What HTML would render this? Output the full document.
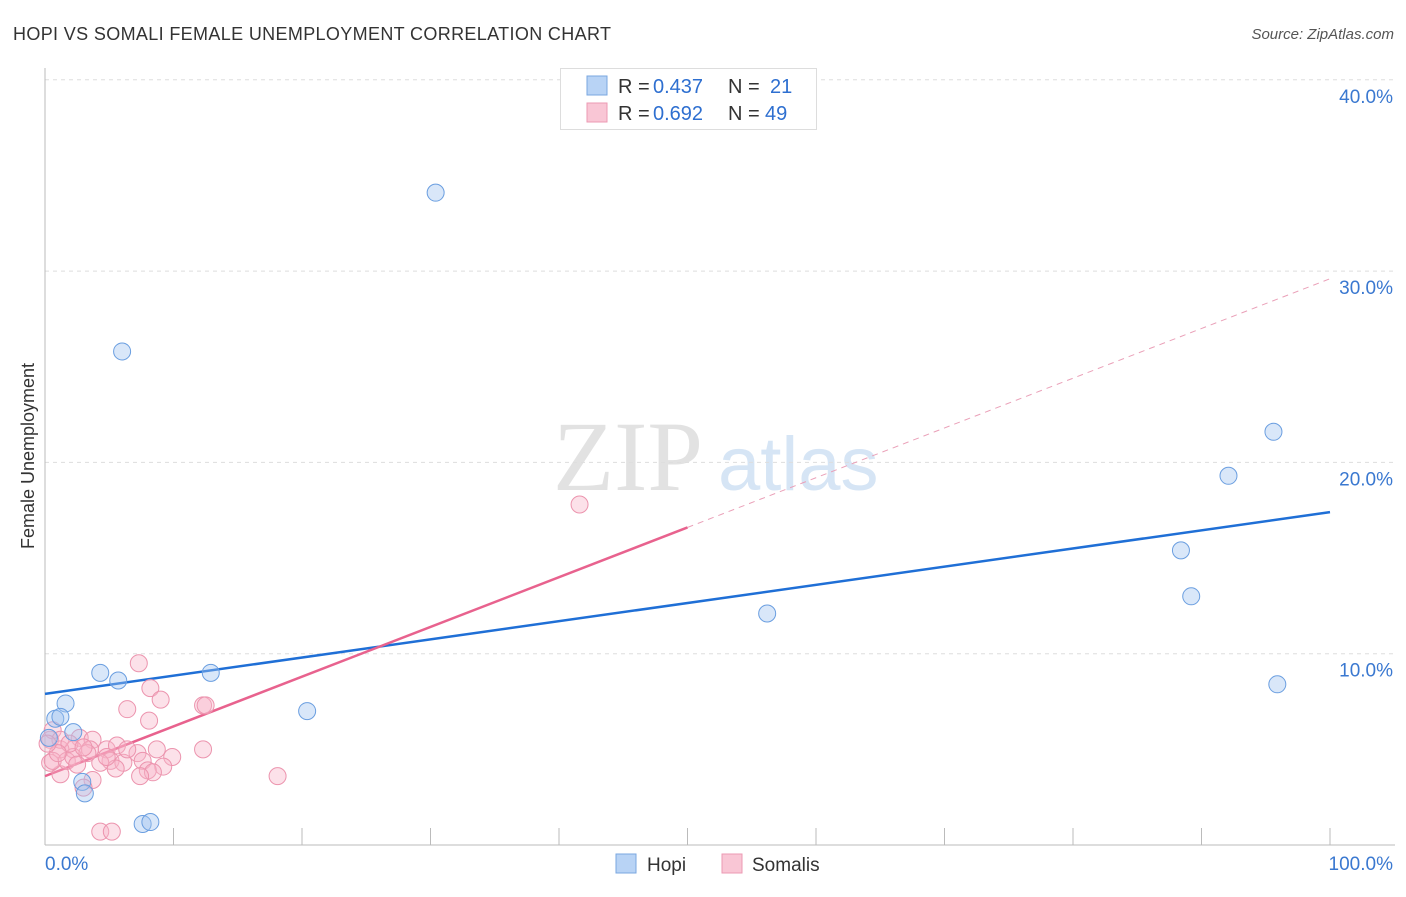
<!DOCTYPE html>
<html><head><meta charset="utf-8">
<style>
body{margin:0;background:#fff;font-family:"Liberation Sans",sans-serif;}
</style></head>
<body>
<svg id="chart" width="1406" height="892" viewBox="0 0 1406 892" font-family="Liberation Sans, sans-serif">
<text x="13" y="40" font-size="18" fill="#333" textLength="598">HOPI VS SOMALI FEMALE UNEMPLOYMENT CORRELATION CHART</text>
<text x="1394" y="39" font-size="15" fill="#555" font-style="italic" text-anchor="end">Source: ZipAtlas.com</text>
<text x="34" y="456" font-size="18" fill="#333" transform="rotate(-90 34 456)" text-anchor="middle">Female Unemployment</text>
<g>
<text x="553" y="490" font-size="100" fill="#e2e2e2" style="font-family:'Liberation Serif',serif">ZIP</text>
<text x="718" y="490" font-size="76" fill="#d6e5f5">atlas</text>
</g>
<g id="grid"></g>
<g id="axes"></g>
<g id="lines"></g>
<g id="points"></g>
<g>
<rect x="560.5" y="68.5" width="256" height="61" fill="#fff" stroke="#ddd"/>
<rect x="587" y="76" width="20" height="19" fill="#b8d3f5" stroke="#7aa7e0"/>
<rect x="587" y="103" width="20" height="19" fill="#f9c6d5" stroke="#ec9ab3"/>
<text x="618" y="93" font-size="20" fill="#333">R =</text>
<text x="653" y="93" font-size="20" fill="#2e6fd0">0.437</text>
<text x="728" y="93" font-size="20" fill="#333">N =</text>
<text x="770" y="93" font-size="20" fill="#2e6fd0">21</text>
<text x="618" y="120" font-size="20" fill="#333">R =</text>
<text x="653" y="120" font-size="20" fill="#2e6fd0">0.692</text>
<text x="728" y="120" font-size="20" fill="#333">N =</text>
<text x="765" y="120" font-size="20" fill="#2e6fd0">49</text>
</g>
<g>
<rect x="616" y="854" width="20" height="19" fill="#b8d3f5" stroke="#7aa7e0"/>
<text x="647" y="871" font-size="19" fill="#333">Hopi</text>
<rect x="722" y="854" width="20" height="19" fill="#f9c6d5" stroke="#ec9ab3"/>
<text x="752" y="871" font-size="19" fill="#333">Somalis</text>
</g>
</svg>
<script>
const yTicks=[10,20,30,40];
const yTickLabels=["10.0%","20.0%","30.0%","40.0%"];
const xTickVals=[10,20,30,40,50,60,70,80,90,100];
const hopiX=[30.4,6.0,95.6,92.1,88.4,89.2,56.2,95.9,4.3,5.7,12.9,20.4,1.6,0.8,1.2,2.2,0.3,2.9,3.1,7.6,8.2];
const hopiY=[34.1,25.8,21.6,19.3,15.4,13.0,12.1,8.4,9.0,8.6,9.0,7.0,7.4,6.6,6.7,5.9,5.6,3.3,2.7,1.1,1.2];
const somX=[7.3,8.2,9.0,6.4,8.1,12.3,12.5,12.3,18.1,41.6,0.4,0.6,2.7,2.2,1.2,3.7,3.5,4.8,5.6,7.2,8.7,9.9,7.6,5.1,4.3,6.1,5.5,9.2,8.0,8.4,7.4,3.7,3.0,1.2,0.4,0.6,1.7,2.2,3.3,1.2,4.3,5.2,1.9,3.0,4.8,6.4,1.0,2.5,0.2];
const somY=[9.5,8.2,7.6,7.1,6.5,7.3,7.3,5.0,3.6,17.8,5.5,6.0,5.6,5.0,5.0,5.5,5.0,5.0,5.2,4.8,5.0,4.6,4.4,4.4,4.3,4.3,4.0,4.1,3.9,3.8,3.6,3.4,3.0,3.7,4.3,4.4,4.4,4.6,4.8,5.5,0.7,0.7,5.3,5.1,4.6,5.0,4.8,4.2,5.3];
const hopiFit=[7.9,17.4];
const somFit=[3.6,16.6,29.6];
const X=v=>45+v*12.85, Y=v=>845-v*19.13;
const NS="http://www.w3.org/2000/svg";
function mk(tag,attrs,parent){const e=document.createElementNS(NS,tag);for(const k in attrs)e.setAttribute(k,attrs[k]);document.getElementById(parent).appendChild(e);return e;}
yTicks.forEach((t,i)=>{
 const g=mk('line',{x1:45,x2:1395,y1:Y(t),y2:Y(t),stroke:'#ddd','stroke-dasharray':'4,4'},'grid');
 
 
 const l=mk('text',{x:1393,y:Y(t)+23,'font-size':19,fill:'#3a78d0','text-anchor':'end'},'axes');
 l.textContent=yTickLabels[i];
 
 
});
let a=mk('line',{x1:45,x2:45,y1:68,y2:845,stroke:'#bbb'},'axes');


a=mk('line',{x1:45,x2:1395,y1:845,y2:845,stroke:'#bbb'},'axes');


xTickVals.forEach(t=>{
 const e=mk('line',{x1:X(t),x2:X(t),y1:828,y2:845,stroke:'#bbb'},'axes');
 
 
});
let t0=mk('text',{x:45,y:870,'font-size':19,fill:'#3a78d0'},'axes');t0.textContent='0.0%';


let t1=mk('text',{x:1393,y:870,'font-size':19,fill:'#3a78d0','text-anchor':'end'},'axes');t1.textContent='100.0%';


somX.forEach((x,i)=>{
 const c=mk('circle',{cx:X(x),cy:Y(somY[i]),r:8.5,fill:'rgba(248,180,200,0.4)',stroke:'#ec94ae','stroke-width':1},'points');
 
 
});
hopiX.forEach((x,i)=>{
 const c=mk('circle',{cx:X(x),cy:Y(hopiY[i]),r:8.5,fill:'rgba(160,196,240,0.4)',stroke:'#6a9ee0','stroke-width':1},'points');
 
 
});
let ln=mk('line',{x1:X(0),y1:Y(hopiFit[0]),x2:X(100),y2:Y(hopiFit[1]),stroke:'#1f6fd6','stroke-width':2.5},'lines');


ln=mk('line',{x1:X(0),y1:Y(somFit[0]),x2:X(50),y2:Y(somFit[1]),stroke:'#e8628e','stroke-width':2.5},'lines');


ln=mk('line',{x1:X(50),y1:Y(somFit[1]),x2:X(100),y2:Y(somFit[2]),stroke:'#eaa0b8','stroke-width':1,'stroke-dasharray':'6,5'},'lines');


</script>
</body></html>
